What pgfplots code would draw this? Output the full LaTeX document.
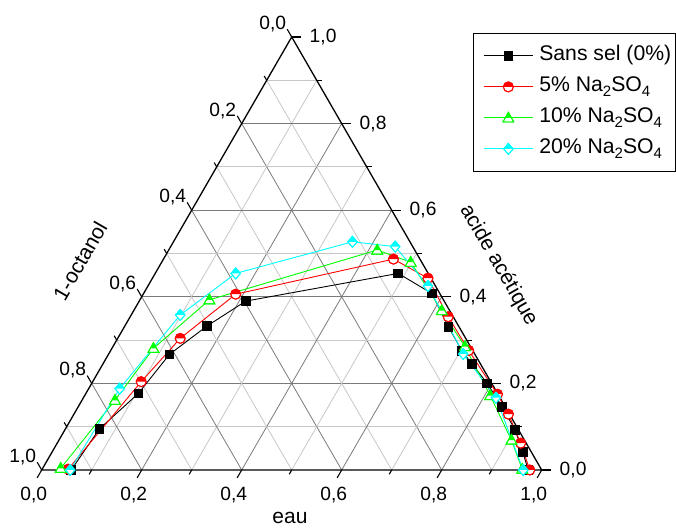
\documentclass[border=0pt]{standalone}
\usepackage{fontspec}
\setmainfont{Liberation Sans}
\usepackage{pgfplots}
\usepackage{pgfplotstable}
\pgfplotsset{compat=1.18}
\usetikzlibrary{calc}

\definecolor{oRed}{RGB}{255,0,0}
\definecolor{oGreen}{RGB}{0,255,0}
\definecolor{oCyan}{RGB}{0,255,255}

% half-filled marks (upper half filled)
\pgfdeclareplotmark{hcircR}{%
  \pgfsetfillcolor{white}%
  \pgfpathcircle{\pgfpointorigin}{\pgfplotmarksize}\pgfusepathqfillstroke
  \pgfsetfillcolor{oRed}%
  \pgfpathmoveto{\pgfqpoint{\pgfplotmarksize}{0pt}}%
  \pgfpatharc{0}{180}{\pgfplotmarksize}\pgfpathclose\pgfusepathqfill
  \pgfpathcircle{\pgfpointorigin}{\pgfplotmarksize}\pgfusepathqstroke
}
\pgfdeclareplotmark{htriG}{%
  \pgfsetfillcolor{white}%
  \pgfpathmoveto{\pgfqpoint{0pt}{1.05\pgfplotmarksize}}%
  \pgfpathlineto{\pgfqpoint{-1.0\pgfplotmarksize}{-0.75\pgfplotmarksize}}%
  \pgfpathlineto{\pgfqpoint{1.0\pgfplotmarksize}{-0.75\pgfplotmarksize}}%
  \pgfpathclose\pgfusepathqfillstroke
  \pgfsetfillcolor{oGreen}%
  \pgfpathmoveto{\pgfqpoint{0pt}{1.05\pgfplotmarksize}}%
  \pgfpathlineto{\pgfqpoint{-0.583\pgfplotmarksize}{0pt}}%
  \pgfpathlineto{\pgfqpoint{0.583\pgfplotmarksize}{0pt}}%
  \pgfpathclose\pgfusepathqfill
  \pgfpathmoveto{\pgfqpoint{0pt}{1.05\pgfplotmarksize}}%
  \pgfpathlineto{\pgfqpoint{-1.0\pgfplotmarksize}{-0.75\pgfplotmarksize}}%
  \pgfpathlineto{\pgfqpoint{1.0\pgfplotmarksize}{-0.75\pgfplotmarksize}}%
  \pgfpathclose\pgfusepathqstroke
}
\pgfdeclareplotmark{hdiaC}{%
  \pgfsetfillcolor{white}%
  \pgfpathmoveto{\pgfqpoint{0pt}{1.1\pgfplotmarksize}}%
  \pgfpathlineto{\pgfqpoint{0.95\pgfplotmarksize}{0pt}}%
  \pgfpathlineto{\pgfqpoint{0pt}{-1.1\pgfplotmarksize}}%
  \pgfpathlineto{\pgfqpoint{-0.95\pgfplotmarksize}{0pt}}%
  \pgfpathclose\pgfusepathqfillstroke
  \pgfsetfillcolor{oCyan}%
  \pgfpathmoveto{\pgfqpoint{0pt}{1.1\pgfplotmarksize}}%
  \pgfpathlineto{\pgfqpoint{0.95\pgfplotmarksize}{0pt}}%
  \pgfpathlineto{\pgfqpoint{-0.95\pgfplotmarksize}{0pt}}%
  \pgfpathclose\pgfusepathqfill
  \pgfpathmoveto{\pgfqpoint{0pt}{1.1\pgfplotmarksize}}%
  \pgfpathlineto{\pgfqpoint{0.95\pgfplotmarksize}{0pt}}%
  \pgfpathlineto{\pgfqpoint{0pt}{-1.1\pgfplotmarksize}}%
  \pgfpathlineto{\pgfqpoint{-0.95\pgfplotmarksize}{0pt}}%
  \pgfpathclose\pgfusepathqstroke
}

% e = eau fraction, a = acide acetique fraction
\pgfplotstableread{
e a
0.059 0.000
0.068 0.095
0.105 0.177
0.122 0.267
0.164 0.332
0.213 0.390
0.486 0.454
0.576 0.408
0.648 0.331
0.703 0.275
0.738 0.245
0.791 0.200
0.848 0.146
0.901 0.092
0.941 0.042
0.973 0.000
}\tblK
\pgfplotstableread{
e a
0.052 0.002
0.097 0.204
0.125 0.304
0.185 0.406
0.460 0.487
0.551 0.443
0.636 0.354
0.716 0.276
0.824 0.175
0.869 0.129
0.927 0.062
0.976 0.000
}\tblR
\pgfplotstableread{
e a
0.036 0.004
0.066 0.161
0.083 0.281
0.139 0.393
0.417 0.508
0.498 0.480
0.616 0.368
0.704 0.285
0.811 0.172
0.905 0.069
0.960 0.002
}\tblG
\pgfplotstableread{
e a
0.057 0.000
0.062 0.188
0.098 0.358
0.161 0.454
0.358 0.527
0.449 0.516
0.560 0.425
0.709 0.268
0.825 0.167
0.963 0.000
}\tblC

\newcommand\tickfont{\fontsize{19.2}{21}\selectfont}
\newcommand\titlefont{\fontsize{21}{24}\selectfont}
\newcommand\sub[1]{\raisebox{-0.42ex}{\fontsize{15}{15}\selectfont #1}}

\begin{document}
\begin{tikzpicture}[x=1pt,y=1pt]
\useasboundingbox (0,0) rectangle (676,529);
\coordinate (A) at (41.7,59);   % octanol = 1
\coordinate (B) at (541.7,59);  % eau = 1
\coordinate (C) at (291.7,492); % acide = 1
% grid
\foreach \i in {1,...,9}{
  \pgfmathsetmacro\c{\i/10}
  \ifodd\i \def\gc{black!22}\else\def\gc{black!52}\fi
  \draw[\gc, line width=0.8pt] ($(A)!\c!(C)$) -- ($(B)!\c!(C)$);
  \draw[\gc, line width=0.8pt] ($(A)!\c!(B)$) -- ($(C)!\c!(B)$);
  \draw[\gc, line width=0.8pt] ($(C)!\c!(A)$) -- ($(B)!\c!(A)$);
}
% border
\draw[line width=1.3pt] (A) -- (B) -- (C) -- cycle;
% ticks
\foreach \i in {0,...,10}{
  \pgfmathsetmacro\c{\i/10}
  \ifodd\i \def\tl{5}\else\def\tl{9}\fi
  \draw[line width=1.1pt] ($(A)!\c!(B)$) -- ++(240:\tl);
  \draw[line width=1.1pt] ($(B)!\c!(C)$) -- ++(0:\tl);
  \draw[line width=1.1pt] ($(C)!\c!(A)$) -- ++(120:\tl);
}
% tick labels
\foreach \i/\t in {0/0{,}0,2/0{,}2,4/0{,}4,6/0{,}6,8/0{,}8,10/1{,}0}{
  \pgfmathsetmacro\c{\i/10}
  \node[font=\tickfont] at ($(A)!\c!(B)+(-8,-25)$) {\t};
  \node[font=\tickfont, anchor=west] at ($(B)!\c!(C)+(14.5,0)$) {\t};
  \node[font=\tickfont] at ($(C)!\c!(A)+(-19,13)$) {\t};
}
% axis titles
\node[font=\titlefont, rotate=60] at (80,268) {1-octanol};
\node[font=\titlefont, rotate=-60] at (498.5,264) {acide acétique};
\node[font=\titlefont] at (290,11) {eau};

\begin{axis}[
  at={(41.7pt,59pt)}, anchor=south west,
  scale only axis, width=500pt, height=433pt,
  xmin=0, xmax=1, ymin=0, ymax=1,
  hide axis, clip=false,
  legend style={at={(0.8626,1.0092)}, anchor=north west,
    draw=black, line width=0.8pt, fill=white,
    font=\fontsize{21.2}{23}\selectfont,
    inner xsep=2pt, inner ysep=7pt, row sep=0pt, column sep=0pt,
    nodes={inner xsep=2pt, inner ysep=2pt, text height=18pt, text depth=9pt},
    cells={anchor=west}},
  legend image code/.code={%
    \path (-8pt,0pt) (53pt,0pt);
    \draw[mark repeat=2,mark phase=2,#1] plot coordinates {(0pt,0pt) (24.5pt,0pt) (49pt,0pt)};},
]
\addplot[black, line width=0.9pt, mark=square*, mark size=4.3pt]
  table[x expr=\thisrow{e}+0.5*\thisrow{a}, y=a] {\tblK};
\addlegendentry{Sans sel (0\%)}
\addplot[oRed, line width=0.9pt, mark=hcircR, mark size=5pt]
  table[x expr=\thisrow{e}+0.5*\thisrow{a}, y=a] {\tblR};
\addlegendentry{5\% Na\sub{2}SO\sub{4}}
\addplot[oGreen, line width=0.9pt, mark=htriG, mark size=5.4pt]
  table[x expr=\thisrow{e}+0.5*\thisrow{a}, y=a] {\tblG};
\addlegendentry{10\% Na\sub{2}SO\sub{4}}
\addplot[oCyan, line width=0.9pt, mark=hdiaC, mark size=5pt]
  table[x expr=\thisrow{e}+0.5*\thisrow{a}, y=a] {\tblC};
\addlegendentry{20\% Na\sub{2}SO\sub{4}}
\end{axis}
\end{tikzpicture}
\end{document}
